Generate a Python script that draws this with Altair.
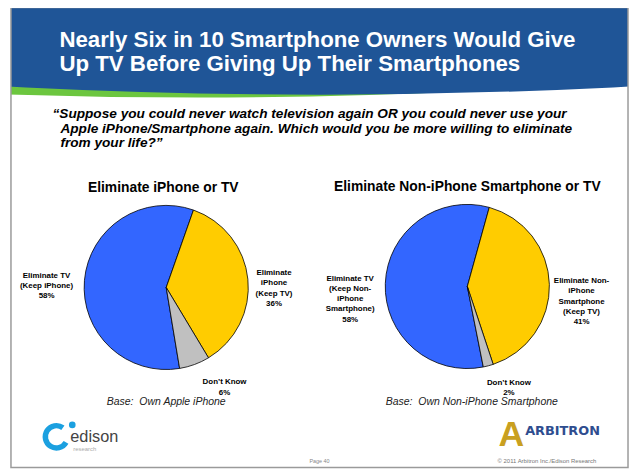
import math
import altair as alt

# ---------------- data ----------------
slice_names = ["Eliminate TV", "Eliminate Smartphone", "Don\u2019t Know"]
slice_colors = ["#3366FF", "#FFCC00", "#C0C0C0"]
slice_order = [3, 1, 2]          # drawing order clockwise: yellow, gray, blue

pie1_values = [58, 36, 6]
pie1_labels = [["Eliminate TV", "(Keep iPhone)"],
               ["Eliminate", "iPhone", "(Keep TV)"],
               ["Don\u2019t Know"]]
pie2_values = [58, 41, 2]
pie2_labels = [["Eliminate TV", "(Keep Non-", "iPhone", "Smartphone)"],
               ["Eliminate Non-", "iPhone", "Smartphone", "(Keep TV)"],
               ["Don\u2019t Know"]]

title_lines = ["Nearly Six in 10 Smartphone Owners Would Give",
               "Up TV Before Giving Up Their Smartphones"]
question_lines = ["\u201cSuppose you could never watch television again OR you could never use your",
                  "Apple iPhone/Smartphone again. Which would you be more willing to eliminate",
                  "from your life?\u201d"]
pie_titles = ["Eliminate iPhone or TV", "Eliminate Non-iPhone Smartphone or TV"]
base_texts = ["Base:\u00a0 Own Apple iPhone", "Base:\u00a0 Own Non-iPhone Smartphone"]

# ---------------- layout helpers ----------------
W, H = 628, 463
OX, OY = 8, 8
FONT = "Liberation Sans"
blank = alt.Data(values=[{}])


def at(x, y):
    return dict(x=alt.value(x - OX), y=alt.value(y - OY))


def text(s, x, y, size, weight="normal", style="normal", color="#000000",
         align="left", baseline="alphabetic", lh=None, font=FONT):
    kw = dict(text=s, fontSize=size, fontWeight=weight, fontStyle=style,
              color=color, align=align, baseline=baseline, font=font)
    if lh:
        kw["lineHeight"] = lh
    return alt.Chart(blank).mark_text(**kw).encode(**at(x, y))


def rect(x1, y1, x2, y2, **kw):
    return alt.Chart(blank).mark_rect(**kw).encode(
        x=alt.value(x1 - OX), x2=alt.value(x2 - OX),
        y=alt.value(y1 - OY), y2=alt.value(y2 - OY))


def disc(cx, cy, r, **kw):
    return alt.Chart(blank).mark_arc(radius=r, theta=0, theta2=2 * math.pi, **kw).encode(**at(cx, cy))


def pie(values, cx, cy, r, start_deg):
    rows = [{"c": n, "v": v, "o": o} for n, v, o in zip(slice_names, values, slice_order)]
    a = math.radians(start_deg)
    return alt.Chart(alt.Data(values=rows)).mark_arc(
        radius=r, stroke="#000000", strokeWidth=0.8
    ).encode(
        theta=alt.Theta("v:Q", stack=True, scale=alt.Scale(range=[a, a + 2 * math.pi])),
        color=alt.Color("c:N", scale=alt.Scale(domain=slice_names, range=slice_colors), legend=None),
        order=alt.Order("o:Q"),
        x=alt.value(cx - OX), y=alt.value(cy - OY),
    )


layers = []

# header: blue swoosh band with green underline
layers.append(disc(200, 96 - 5891, 5891, fill="#6CC63F"))
layers.append(disc(323, 93 - 6049, 6049, fill="#1F5597"))
layers.append(rect(0, 0, 11, 110, fill="#FFFFFF"))
layers.append(rect(635, 0, 640, 110, fill="#FFFFFF"))
layers.append(rect(11, 5, 635, 470, fill="transparent", stroke="#9A9A9A", strokeWidth=1.5))

layers.append(text(title_lines[0], 60, 44.5, 22.5, weight="bold", color="#FFFFFF"))
layers.append(text(title_lines[1], 60, 69, 22.5, weight="bold", color="#FFFFFF"))

layers.append(text(question_lines[0], 53, 116.5, 13.8, weight="bold", style="italic"))
layers.append(text(question_lines[1], 61, 131.5, 13.8, weight="bold", style="italic"))
layers.append(text(question_lines[2], 61, 146, 13.8, weight="bold", style="italic"))

layers.append(text(pie_titles[0], 165, 191.5, 14, weight="bold", align="center"))
layers.append(text(pie_titles[1], 472.5, 190, 14, weight="bold", align="center"))

# pies
layers.append(pie(pie1_values, 168, 288, 83, 19.4))
layers.append(pie(pie2_values, 472.5, 287, 83, 15.5))


def lbl(lines, v, x, y):
    return text(lines + [f"{v}%"], x, y, 8, weight="bold", align="center",
                baseline="middle", lh=10.4)


layers.append(lbl(pie1_labels[0], pie1_values[0], 47, 276))
layers.append(lbl(pie1_labels[1], pie1_values[1], 277, 273.5))
layers.append(lbl(pie1_labels[2], pie1_values[2], 227, 384))
layers.append(lbl(pie2_labels[0], pie2_values[0], 354, 279))
layers.append(lbl(pie2_labels[1], pie2_values[1], 588, 281.5))
layers.append(lbl(pie2_labels[2], pie2_values[2], 514.5, 384.5))

layers.append(text(base_texts[0], 168, 407, 10.6, style="italic", color="#222222", align="center"))
layers.append(text(base_texts[1], 477, 407, 10.6, style="italic", color="#222222", align="center"))

# edison logo
layers.append(alt.Chart(blank).mark_arc(radius=14, radius2=8.5, theta=2.1, theta2=6.9,
                                        fill="#1BA0E0").encode(**at(57, 439)))
layers.append(alt.Chart(blank).mark_point(filled=True, size=45, color="#1BA0E0",
                                          opacity=1).encode(**at(73, 427)))
layers.append(text("edison", 71, 444, 16.5, color="#444444"))
layers.append(text("research", 74, 453, 6, color="#AAAAAA"))

# arbitron logo
layers.append(text("A", 517, 448, 36, weight="bold", color="#C9A020", align="center"))
layers.append(text("ARBITRON", 531, 437, 13, weight="bold", color="#2E4D8F", font="DejaVu Sans"))

# footer
layers.append(text("Page 40", 323, 466, 5.5, color="#888888", align="center"))
layers.append(text("\u00a9 2011 Arbitron Inc./Edison Research", 553, 465.5, 6, color="#777777", align="center"))

chart = alt.layer(*layers).resolve_scale(
    theta="independent", color="independent"
).properties(
    width=W, height=H, padding=0, autosize=alt.AutoSizeParams(type="none"),
    background="#FFFFFF"
).configure_view(strokeWidth=0)

chart.save("out.html", embed_options={"renderer": "svg", "actions": False})
